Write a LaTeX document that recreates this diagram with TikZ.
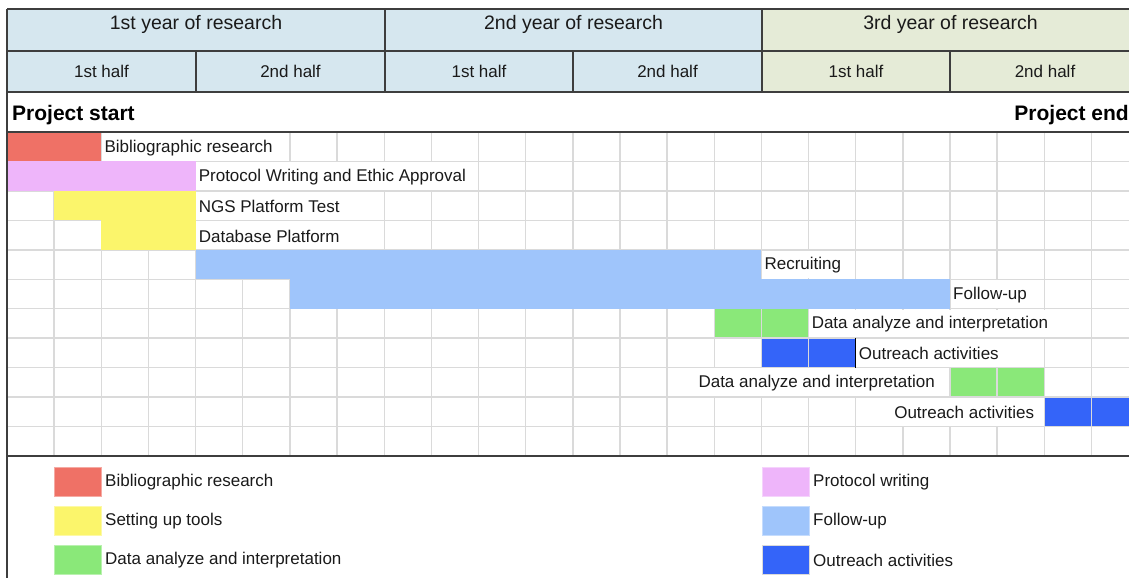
\documentclass[tikz,border=0pt]{standalone}
\usepackage{fontspec}
\setmainfont{Liberation Sans}
\definecolor{ink}{HTML}{1A1A1A}
\definecolor{frame}{HTML}{3E3E3E}
\definecolor{gridgray}{HTML}{DADADA}
\definecolor{hdrblue}{HTML}{D6E7EF}
\definecolor{hdrgreen}{HTML}{E5EBD7}
\definecolor{biblio}{HTML}{EF7166}
\definecolor{protocol}{HTML}{EEB5FA}
\definecolor{setup}{HTML}{FBF56B}
\definecolor{follow}{HTML}{9FC5FB}
\definecolor{analysis}{HTML}{8AE879}
\definecolor{outreach}{HTML}{3464F9}
\newcommand{\blankcell}[4]{\fill[white] ([xshift=0.8pt,yshift=-0.8pt]#1,#2) rectangle ([xshift=-0.8pt,yshift=0.8pt]#3,#4);}
\begin{document}
\begin{tikzpicture}[x=1pt,y=-1pt,
  txt/.style={inner sep=0pt, yshift=-1pt, text=ink, font=\fontsize{17}{20}\selectfont},
  yeartxt/.style={inner sep=0pt, yshift=-1.5pt, text=ink, font=\fontsize{19.5}{22}\selectfont},
  halftxt/.style={inner sep=0pt, text=ink, font=\fontsize{17}{20}\selectfont},
  milestone/.style={inner sep=0pt, yshift=-2pt, text=black, font=\fontsize{21}{24}\selectfont\bfseries},
  gridline/.style={draw=gridgray, line width=1.4pt},
  frameline/.style={draw=frame, line width=1.6pt},
  keybox/.style={line width=0.8pt}]
\useasboundingbox (0,0) rectangle (1129,578);
\clip (0,0) rectangle (1129,578);

% ---- header: years and halves ----
\fill[hdrblue] (7,9) rectangle (762,92);
\fill[hdrgreen] (762,9) rectangle (1140,92);
\node[yeartxt] (y1) at (196,22.5) {1st year of research};
\node[yeartxt] (y2) at (573.5,22.5) {2nd year of research};
\node[yeartxt] (y3) at (950.5,22.5) {3rd year of research};
\node[halftxt] (h1) at (101.5,71.5) {1st half};
\node[halftxt] (h2) at (290.5,71.5) {2nd half};
\node[halftxt] (h3) at (479,71.5) {1st half};
\node[halftxt] (h4) at (667.5,71.5) {2nd half};
\node[halftxt] (h5) at (856,71.5) {1st half};
\node[halftxt] (h6) at (1045,71.5) {2nd half};

% ---- milestones ----
\node[milestone, anchor=west] (pstart) at (12,113) {Project start};
\node[milestone, anchor=east] (pend) at (1129,113) {Project end};

% ---- monthly grid ----
\begin{scope}[shift={(7,132)}, x=47.15pt, y=-29.45pt]
  % single-month cells
  \foreach \c/\r in {15/6,16/6,20/8,21/8} \fill[analysis] (\c,\r) rectangle (\c+1,\r+1);
  \foreach \c/\r in {16/7,17/7,22/9,23/9} \fill[outreach] (\c,\r) rectangle (\c+1,\r+1);
  \foreach \i in {0,...,24} \draw[gridline] (\i,0) -- (\i,11);
  \foreach \j in {1,...,10} \draw[gridline] (0,\j) -- (24,\j);
  % long bars
  \fill[biblio] (0,0) rectangle (2,1);
  \fill[protocol] (0,1) rectangle (4,2);
  \fill[setup] (1,2) rectangle (4,3);
  \fill[setup] (2,3) rectangle (4,4);
  \fill[follow] (4,4) rectangle (16,5);
  \fill[follow] (6,5) rectangle (20,6);
  % task labels
  \blankcell{2}{0}{6}{1}
  \node[txt, anchor=west] (t1) at ([xshift=3pt]2,0.5) {Bibliographic research};
  \blankcell{4}{1}{10}{2}
  \node[txt, anchor=west] (t2) at ([xshift=3pt]4,1.5) {Protocol Writing and Ethic Approval};
  \blankcell{4}{2}{8}{3}
  \node[txt, anchor=west] (t3) at ([xshift=3pt]4,2.5) {NGS Platform Test};
  \blankcell{4}{3}{8}{4}
  \node[txt, anchor=west] (t4) at ([xshift=3pt]4,3.5) {Database Platform};
  \blankcell{16}{4}{18}{5}
  \node[txt, anchor=west] (t5) at ([xshift=3pt]16,4.5) {Recruiting};
  \blankcell{20}{5}{22}{6}
  \node[txt, anchor=west] (t6) at ([xshift=3pt]20,5.5) {Follow-up};
  \blankcell{17}{6}{23}{7}
  \node[txt, anchor=west] (t7) at ([xshift=3pt]17,6.5) {Data analyze and interpretation};
  \blankcell{18}{7}{22}{8}
  \node[txt, anchor=west] (t8) at ([xshift=3pt]18,7.5) {Outreach activities};
  \draw[black, line width=1pt] (18,7) -- (18,8);
  \blankcell{14}{8}{20}{9}
  \node[txt, anchor=east] (t9) at ([xshift=-15pt]20,8.5) {Data analyze and interpretation};
  \blankcell{18}{9}{22}{10}
  \node[txt, anchor=east] (t10) at ([xshift=-10pt]22,9.5) {Outreach activities};
\end{scope}

% ---- frame lines ----
\draw[frameline] (7,9) -- (1140,9);
\draw[frameline] (7,51) -- (1140,51);
\draw[frameline] (7,92) -- (1140,92);
\draw[frameline] (7,132) -- (1140,132);
\draw[frameline] (7,456) -- (1140,456);
\draw[frameline] (7,9) -- (7,578);
\draw[frameline] (385,9) -- (385,92);
\draw[frameline] (762,9) -- (762,92);
\foreach \x in {196,573,950} \draw[frameline] (\x,51) -- (\x,92);

% ---- legend ----
\filldraw[keybox, fill=biblio, draw=biblio!60!white] (54,467) rectangle (101,496);
\node[txt, anchor=west] (k1) at (105,481.5) {Bibliographic research};
\filldraw[keybox, fill=setup, draw=setup!60!white] (54,506) rectangle (101,535);
\node[txt, anchor=west] (k2) at (105,520.5) {Setting up tools};
\filldraw[keybox, fill=analysis, draw=analysis!60!white] (54,545) rectangle (101,574);
\node[txt, anchor=west] (k3) at (105,559.5) {Data analyze and interpretation};
\filldraw[keybox, fill=protocol, draw=protocol!60!white] (762,467) rectangle (809,496);
\node[txt, anchor=west] (k4) at (813,481.5) {Protocol writing};
\filldraw[keybox, fill=follow, draw=follow!60!white] (762,506) rectangle (809,535);
\node[txt, anchor=west] (k5) at (813,520.5) {Follow-up};
\filldraw[keybox, fill=outreach, draw=gridgray] (762,545) rectangle (809,574);
\node[txt, anchor=west] (k6) at (813,559.5) {Outreach activities};
\end{tikzpicture}
\end{document}
